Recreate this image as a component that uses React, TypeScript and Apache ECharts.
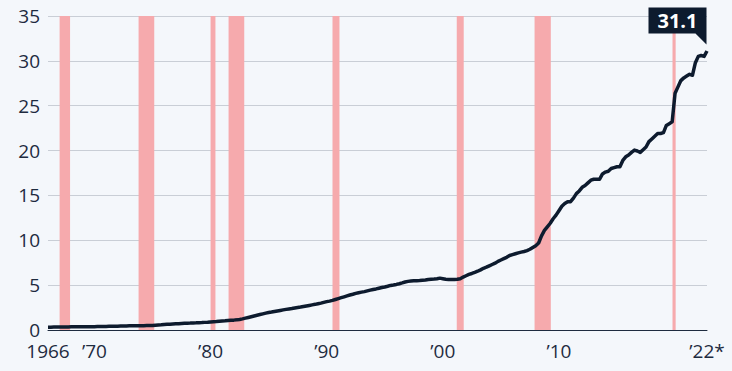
import React, { useEffect, useRef } from "react";
import * as echarts from "echarts";

// Quarterly values (trillion U.S. dollars), first quarter of 1966 onward
const startYear = 1966;
const debt1960s = [
  0.32, 0.32, 0.33, 0.33, 0.33, 0.33, 0.34, 0.34, 0.35, 0.35, 0.36, 0.36,
  0.36, 0.36, 0.37, 0.37,
];
const debt1970s = [
  0.37, 0.38, 0.38, 0.39, 0.4, 0.41, 0.42, 0.43, 0.43, 0.44, 0.45, 0.45,
  0.46, 0.47, 0.47, 0.48, 0.48, 0.48, 0.49, 0.5, 0.51, 0.54, 0.56, 0.58,
  0.61, 0.63, 0.65, 0.67, 0.69, 0.7, 0.72, 0.74, 0.76, 0.77, 0.79, 0.8,
  0.82, 0.83, 0.85, 0.86,
];
const debt1980s = [
  0.9, 0.92, 0.94, 0.97, 1.0, 1.02, 1.05, 1.08, 1.1, 1.13, 1.18, 1.24,
  1.32, 1.4, 1.48, 1.56, 1.64, 1.72, 1.8, 1.88, 1.95, 2.0, 2.06, 2.12,
  2.18, 2.24, 2.3, 2.35, 2.4, 2.46, 2.51, 2.56, 2.62, 2.68, 2.74, 2.8,
  2.86, 2.93, 3.0, 3.08,
];
const debt1990s = [
  3.16, 3.22, 3.3, 3.4, 3.5, 3.6, 3.7, 3.8, 3.9, 3.98, 4.08, 4.16,
  4.22, 4.28, 4.36, 4.44, 4.52, 4.58, 4.66, 4.74, 4.8, 4.88, 4.97, 5.02,
  5.08, 5.16, 5.25, 5.35, 5.42, 5.45, 5.48, 5.5, 5.52, 5.55, 5.57, 5.62,
  5.65, 5.68, 5.72, 5.78,
];
const debt2000s = [
  5.72, 5.66, 5.62, 5.64, 5.62, 5.65, 5.72, 5.9, 6.05, 6.2, 6.3, 6.42,
  6.55, 6.7, 6.88, 7.0, 7.15, 7.3, 7.45, 7.65, 7.8, 7.95, 8.1, 8.3,
  8.4, 8.5, 8.6, 8.68, 8.75, 8.85, 9.0, 9.2, 9.4, 9.7, 10.5, 11.1,
  11.5, 11.9, 12.4, 12.8,
];
const debt2010s = [
  13.3, 13.8, 14.1, 14.3, 14.3, 14.7, 15.2, 15.5, 15.9, 16.1, 16.4, 16.7,
  16.8, 16.8, 16.8, 17.4, 17.6, 17.7, 18.0, 18.1, 18.2, 18.2, 18.9, 19.3,
  19.5, 19.8, 20.05, 19.95, 19.8, 20.1, 20.4, 21.0, 21.3, 21.6, 21.9, 21.9,
  22.0, 22.8, 23.0, 23.2,
];
const debt2020s = [26.4, 27.1, 27.8, 28.1, 28.3, 28.5, 28.4, 29.8, 30.5, 30.6, 30.5, 31.1];

// Recession periods (shaded)
const recessionStart = [1967.0, 1973.8, 1980.0, 1981.55, 1990.5, 2001.2, 2007.9, 2019.78];
const recessionEnd = [1967.9, 1975.15, 1980.42, 1982.9, 1991.1, 2001.8, 2009.3, 2020.05];

// X-axis tick labels
const tickYears = [1966, 1970, 1980, 1990, 2000, 2010, 2022.75];
const tickLabels = ["1966", "\u201970", "\u201980", "\u201990", "\u201900", "\u201910", "\u201922*"];

const yTicks = [0, 5, 10, 15, 20, 25, 30, 35];

const BG = "#f4f7fb";
const NAVY = "#0d1b2e";
const TEXT = "#1e2b3f";
const FONT = "'Open Sans', 'Noto Sans', sans-serif";

export default function App() {
  const ref = useRef<HTMLDivElement>(null);

  useEffect(() => {
    document.body.style.margin = "0";
    document.body.style.background = BG;
    if (!ref.current) return;
    const chart = echarts.init(ref.current, null, { renderer: "svg" });

    const values = [
      ...debt1960s,
      ...debt1970s,
      ...debt1980s,
      ...debt1990s,
      ...debt2000s,
      ...debt2010s,
      ...debt2020s,
    ];
    const data = values.map((v, i) => [startYear + i * 0.25, v]);
    const last = data[data.length - 1];

    chart.setOption({
      animation: false,
      backgroundColor: BG,
      textStyle: { fontFamily: FONT },
      grid: { left: 48, right: 25, top: 16, bottom: 41, containLabel: false },
      xAxis: {
        type: "value",
        min: startYear,
        max: last[0],
        splitLine: { show: false },
        axisLine: { show: true, lineStyle: { color: TEXT, width: 1 } },
        axisTick: { show: false },
        axisLabel: {
          customValues: tickYears,
          showMinLabel: true,
          showMaxLabel: true,
          color: TEXT,
          fontSize: 19,
          lineHeight: 17,
          fontFamily: FONT,
          margin: 12,
          formatter: (v: number) => {
            const idx = tickYears.findIndex((t) => Math.abs(t - v) < 0.01);
            return idx >= 0 ? tickLabels[idx] : "";
          },
        },
      },
      yAxis: {
        type: "value",
        min: yTicks[0],
        max: yTicks[yTicks.length - 1],
        interval: 5,
        axisLine: { show: false },
        axisTick: { show: false },
        splitLine: { show: true, lineStyle: { color: "#c9ced6", width: 1 } },
        axisLabel: {
          color: TEXT,
          fontSize: 19,
          lineHeight: 16,
          fontFamily: FONT,
          margin: 8,
          padding: [0, 0, 2, 0],
        },
      },
      series: [
        {
          type: "line",
          data: [],
          z: 1,
          silent: true,
          markArea: {
            silent: true,
            itemStyle: { color: "#f6aaad", opacity: 1 },
            data: recessionStart.map((s, i) => [{ xAxis: s }, { xAxis: recessionEnd[i] }]),
          },
        },
        {
          type: "line",
          data,
          z: 3,
          symbol: "none",
          lineStyle: { color: NAVY, width: 3.5, join: "round" },
          markPoint: {
            symbol: "path://M0 0H58V37L47 26H0Z",
            symbolSize: [58, 37],
            symbolOffset: [-29.5, -25],
            itemStyle: { color: NAVY },
            label: {
              show: true,
              position: "inside",
              offset: [0, -5.5],
              color: "#ffffff",
              fontWeight: "bold",
              fontSize: 20,
              fontFamily: FONT,
              formatter: (p: any) => Number(p.value).toFixed(1),
            },
            data: [{ coord: last, value: last[1] }],
          },
        },
      ],
    });

    return () => chart.dispose();
  }, []);

  return <div ref={ref} style={{ width: 732, height: 371, background: BG }} />;
}
